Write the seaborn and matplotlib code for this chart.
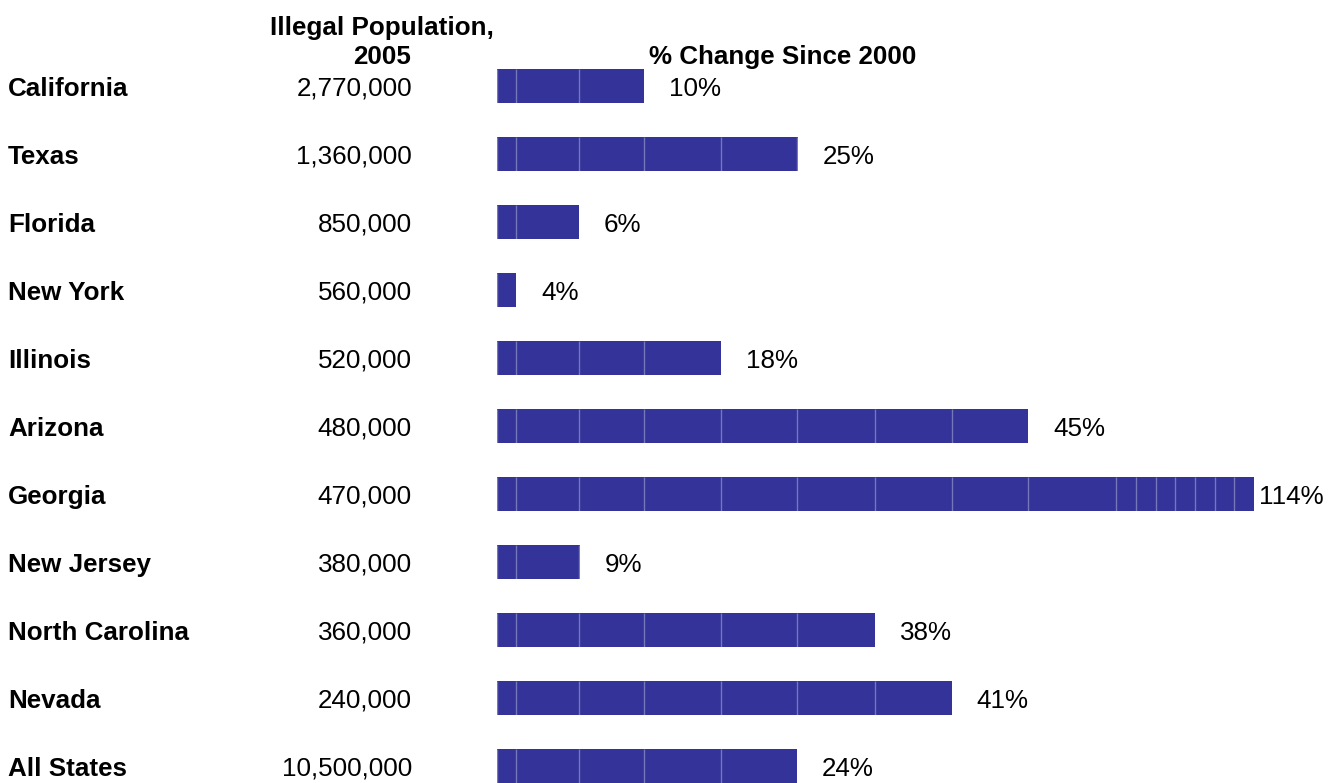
import numpy as np
import pandas as pd
import matplotlib
matplotlib.use("Agg")
import matplotlib.pyplot as plt
import seaborn as sns
from matplotlib.transforms import blended_transform_factory

# ---- data -------------------------------------------------------------
states = ["California", "Texas", "Florida", "New York", "Illinois", "Arizona",
          "Georgia", "New Jersey", "North Carolina", "Nevada", "All States"]
population_2005 = [2770000, 1360000, 850000, 560000, 520000, 480000,
                   470000, 380000, 360000, 240000, 10500000]
pct_change = [10, 25, 6, 4, 18, 45, 114, 9, 38, 41, 24]

pop_header = ["Illegal Population,", "2005"]
pct_header = "% Change Since 2000"

# ---- banded percent axis ----------------------------------------------
# breakpoints of the piecewise-linear bar scale (value -> axis units)
band_values = [0, 4, 6, 9, 10, 18, 24, 25, 38, 41, 45, 114, 200]
band_units = [0, 19, 82, 83, 147, 223.5, 299.5, 300.5, 377.5, 454.5, 531, 757, 1039]
# values at which the bars are divided into blocks
block_edges = [0, 4, 6, 10, 18, 24, 38, 41, 45, 72, 78, 84, 90, 96, 102, 108]


def fwd(v):
    return np.interp(v, band_values, band_units)


def inv(u):
    return np.interp(u, band_units, band_values)


# ---- figure -------------------------------------------------------------
W, H, DPI = 1340, 783, 100
sns.set_style("white")
plt.rcParams["font.family"] = ["Liberation Sans", "DejaVu Sans"]
plt.rcParams["text.color"] = "black"
FS = 18.7
BAR = "#333399"

fig = plt.figure(figsize=(W / DPI, H / DPI), dpi=DPI)
ax_left, row0, pitch = 497, 86, 68
n = len(states)
top_px = row0 - pitch / 2
bot_px = row0 + (n - 0.5) * pitch
ax = fig.add_axes([ax_left / W, 1 - bot_px / H, (W - ax_left) / W, (bot_px - top_px) / H])

df = pd.DataFrame({"state": states, "pct": pct_change})
sns.barplot(data=df, x="pct", y="state", orient="h", color=BAR, saturation=1,
            width=0.5, linewidth=0, ax=ax, zorder=2)

ax.set_xscale("function", functions=(fwd, inv))
ax.set_xlim(0, inv(W - ax_left))
ax.set_ylim(n - 0.5, -0.5)
ax.set_axis_off()

# faint block dividers inside each bar
for i, v in enumerate(pct_change):
    xs = [e for e in block_edges if e < v]
    ax.vlines(xs, i - 0.25, i + 0.25, colors="white", alpha=0.33, linewidth=1.0, zorder=3)

# left-hand columns: state names and population
row_tr = blended_transform_factory(fig.transFigure, ax.transData)
for i, (s, p) in enumerate(zip(states, population_2005)):
    ax.text(8 / W, i + 0.04, s, transform=row_tr, ha="left", va="center",
            fontsize=FS, fontweight="bold", color="black")
    ax.text(412 / W, i + 0.04, f"{p:,}", transform=row_tr, ha="right", va="center",
            fontsize=FS, color="black")

# percent labels at the end of each bar
labels = []
for i, v in enumerate(pct_change):
    t = ax.annotate(f"{v}%", xy=(v, i + 0.04), xytext=(25, 0), textcoords="offset pixels",
                    ha="left", va="center", fontsize=FS, color="black", zorder=4)
    labels.append(t)

fig.canvas.draw()
renderer = fig.canvas.get_renderer()
for t in labels:
    bb = t.get_window_extent(renderer)
    limit = W - 16
    if bb.x1 > limit:
        t.set_position((max(1, 25 - (bb.x1 - limit)), 0))

# column headers
fig.text(382 / W, 1 - 28 / H, pop_header[0], ha="center", va="center",
         fontsize=FS, fontweight="bold", color="black")
fig.text(382 / W, 1 - 57 / H, pop_header[1], ha="center", va="center",
         fontsize=FS, fontweight="bold", color="black")
fig.text(783 / W, 1 - 57 / H, pct_header, ha="center", va="center",
         fontsize=FS, fontweight="bold", color="black")

fig.savefig("out.png", dpi=DPI, facecolor="white")
